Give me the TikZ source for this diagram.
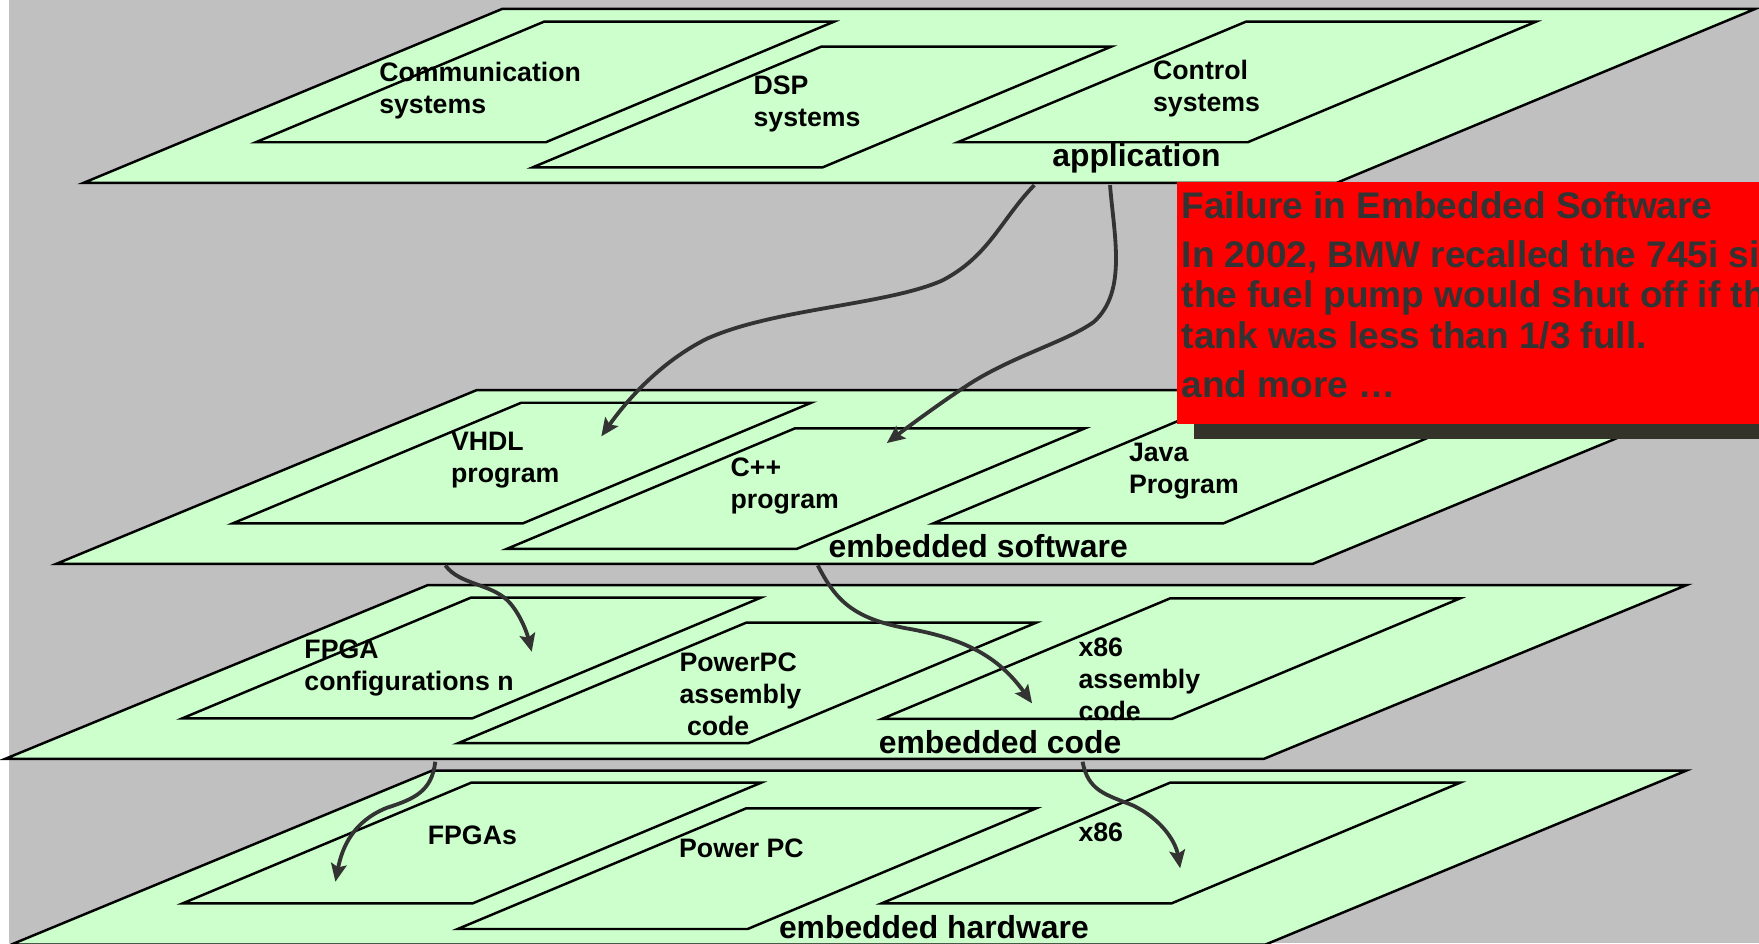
\documentclass[tikz,border=0pt]{standalone}
\usepackage{fontspec}
\setmainfont{Liberation Sans}
\usetikzlibrary{arrows.meta}
\definecolor{bggray}{RGB}{192,192,192}
\definecolor{platec}{RGB}{204,255,204}
\definecolor{arrowgray}{RGB}{51,51,51}
\definecolor{shadowc}{RGB}{51,51,42}
\definecolor{boxtext}{RGB}{51,51,51}
\newcommand\mkplate[5]{\path[platestyle] (#1,#2) -- ++(#3,0) -- ++(-#5,#4) -- ++(-#3,0) -- cycle;}
\begin{document}
\begin{tikzpicture}[x=0.5pt,y=-0.5pt,
  platestyle/.style={fill=platec,draw=black,line width=1.1pt,line join=miter},
  lab/.style={font=\fontsize{11.9}{14.25}\selectfont\bfseries,align=left,anchor=base west,inner sep=0pt},
  layerlab/.style={font=\fontsize{14.2}{17}\selectfont\bfseries,anchor=base,inner sep=0pt},
  arr/.style={draw=arrowgray,line width=1.7pt,-{Stealth[length=8pt,width=7pt,inset=1.5pt]}},
]
\useasboundingbox (0,0) rectangle (1568,841);
\clip (0,0) rectangle (1568,841);
\fill[white] (0,0) rectangle (1568,841);
\fill[bggray] (8,0) rectangle (1568,841);

% layers
\mkplate{447.5}{8}{1117}{155}{373}
\mkplate{425}{347.7}{1120}{155}{375}
\mkplate{381.5}{521.5}{1122}{155}{377}
\mkplate{385}{687}{1118}{155}{375}

% inner plates
\mkplate{485}{19.3}{258.5}{107.5}{257}
\mkplate{732}{41.6}{258.5}{107.5}{257}
\mkplate{1110.7}{19.3}{258.5}{107.5}{257}
\mkplate{464.6}{359}{258.5}{107.5}{257}
\mkplate{708.7}{381.8}{258.5}{107.5}{257}
\mkplate{1089}{359}{258.5}{107.5}{257}
\mkplate{419.6}{532.8}{258.5}{107.5}{257}
\mkplate{665.3}{555}{258.5}{107.5}{257}
\mkplate{1043}{533.4}{258.5}{107.5}{257}
\mkplate{420}{697.7}{258.5}{107.5}{257}
\mkplate{665}{720.6}{258.5}{107.5}{257}
\mkplate{1043}{697.7}{258.5}{107.5}{257}

% labels (anchored at the baseline of their last line)
\node[lab] (comm) at (337.7,101.5) {Communication\\systems};
\node[lab] (dsp) at (671.4,112.5) {DSP\\systems};
\node[lab] (ctrl) at (1027.5,99.5) {Control\\systems};
\node[layerlab] (app) at (1013,148.5) {application};

\node[lab] (vhdl) at (401.7,430.5) {VHDL\\program};
\node[lab] (cpp) at (650.9,453.5) {C++\\program};
\node[lab] (java) at (1006,439.5) {Java\\Program};
\node[layerlab] (esw) at (872,497) {embedded software};

\node[lab] (fpga) at (271,615.5) {FPGA\\configurations n};
\node[lab] (ppc) at (605.4,656) {PowerPC\\assembly\\\ code};
\node[lab] (x86a) at (961,642) {x86\\assembly\\code};
\node[layerlab] (ecode) at (891.5,672) {embedded code};

\node[lab] (fpgas) at (381,752.5) {FPGAs};
\node[lab] (ppchw) at (605,764.5) {Power PC};
\node[lab] (x86hw) at (961,750.5) {x86};
\node[layerlab] (ehw) at (832.5,837) {embedded hardware};

% connector ends
\coordinate (a1s) at (922,165);   \coordinate (a1e) at (536,389);
\coordinate (a2s) at (989.5,165); \coordinate (a2e) at (790.5,395);
\coordinate (a3s) at (397,504);   \coordinate (a3e) at (474,581);
\coordinate (a4s) at (729,504);   \coordinate (a4e) at (920,627);
\coordinate (a5s) at (388,679);   \coordinate (a5e) at (299,786);
\coordinate (a6s) at (965,679);   \coordinate (a6e) at (1052,774);

\draw[arr] (a1s) .. controls (892,196) and (882,228) .. (840,250)
  .. controls (790,272) and (690,275) .. (630,302)
  .. controls (590,322) and (560,355) .. (a1e);
\draw[arr] (a2s) .. controls (993,210) and (1005,260) .. (975,287)
  .. controls (950,305) and (900,318) .. (860,345)
  .. controls (840,358) and (810,380) .. (a2e);
\draw[arr] (a3s) .. controls (410,522) and (440,520) .. (455,538)
  .. controls (465,550) and (470,565) .. (a3e);
\draw[arr] (a4s) .. controls (745,535) and (760,552) .. (813,561)
  .. controls (860,570) and (890,585) .. (a4e);
\draw[arr] (a5s) .. controls (385,705) and (370,712) .. (345,720)
  .. controls (315,732) and (305,755) .. (a5e);
\draw[arr] (a6s) .. controls (970,705) and (985,708) .. (1010,718)
  .. controls (1035,730) and (1048,750) .. (a6e);

% callout box
\fill[shadowc] (1064,200) rectangle (1580,391);
\fill[red] (1049,162) rectangle (1580,378);
\node[font=\fontsize{16.5}{18}\selectfont\bfseries, text=boxtext, align=left,
  anchor=base west, inner sep=0pt] (fail) at (1053,354)
  {Failure in Embedded Software\\[3.75pt]
   In 2002, BMW recalled the 745i since\\
   the fuel pump would shut off if the\\
   tank was less than 1/3 full.\\[3.75pt]
   and more \dots};
\end{tikzpicture}
\end{document}
